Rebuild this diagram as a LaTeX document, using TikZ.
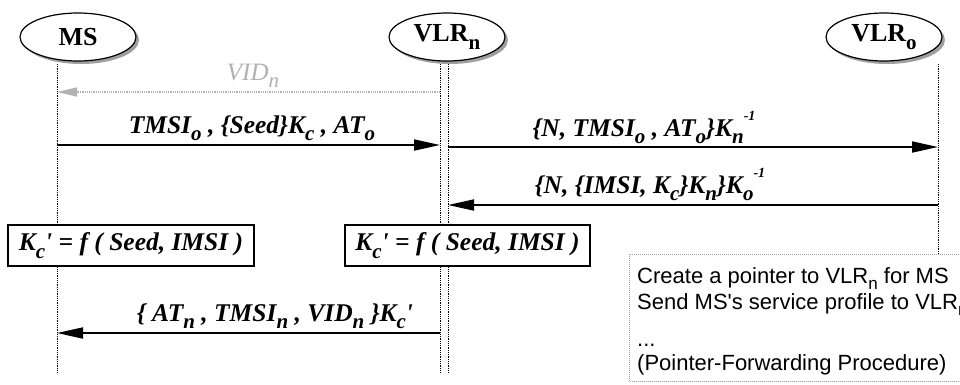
\documentclass[tikz,border=0pt]{standalone}
\usepackage{fontspec}
\setmainfont{Liberation Serif}
\newfontfamily\sansf{Liberation Sans}
\usetikzlibrary{arrows.meta,shapes.geometric,shadows}
\newcommand{\sbi}[1]{\raisebox{-0.3em}{\fontsize{21}{21}\selectfont #1}}
\newcommand{\spi}[1]{\raisebox{0.6em}{\fontsize{14}{14}\selectfont #1}}
\newcommand{\sbs}[1]{\raisebox{-0.3em}{\fontsize{17}{17}\selectfont #1}}
\begin{document}
\begin{tikzpicture}[x=1pt,y=-1pt,
  actor/.style={ellipse, draw, line width=1.2pt, fill=white, minimum width=116pt, minimum height=48pt,
    inner sep=0pt, font=\fontsize{26}{30}\selectfont\bfseries,
    drop shadow={shadow xshift=3pt, shadow yshift=-3pt, fill=gray!75, opacity=1}},
  life/.style={densely dotted, line width=0.8pt},
  msg/.style={line width=1.8pt, -{Triangle[length=26pt,width=11pt]}},
  lbl/.style={font=\fontsize{25.5}{29}\selectfont\bfseries\itshape, inner sep=0pt, anchor=base},
  eqbox/.style={draw, line width=1.2pt, fill=white, minimum height=41pt, inner sep=0pt,
    font=\fontsize{25.5}{29}\selectfont\bfseries\itshape},
  note/.style={font=\sansf\fontsize{22}{24}\selectfont, inner sep=0pt, anchor=base west}]
\useasboundingbox (0,0) rectangle (960,384);
% lifelines
\coordinate (msT) at (57,64);   \coordinate (msB) at (57,372);
\coordinate (vnaT) at (440,64); \coordinate (vnaB) at (440,372);
\coordinate (vnbT) at (448,64); \coordinate (vnbB) at (448,372);
\coordinate (voT) at (938,64);  \coordinate (voB) at (938,254);
\draw[life] (msT) -- (msB);
\draw[life] (vnaT) -- (vnaB);
\draw[life] (vnbT) -- (vnbB);
\draw[life] (voT) -- (voB);
% actors
\node[actor] (ms) at (78,37) {MS};
\node[actor] (vn) at (447,37) {VLR\raisebox{-0.3em}{\fontsize{21}{21}\selectfont n}};
\node[actor] (vo) at (884,37) {VLR\raisebox{-0.3em}{\fontsize{21}{21}\selectfont o}};
% message end points
\coordinate (m0s) at (440,92);  \coordinate (m0e) at (57,92);
\coordinate (m1s) at (57,145);  \coordinate (m1e) at (440,145);
\coordinate (m2s) at (448,147); \coordinate (m2e) at (938,147);
\coordinate (m3s) at (938,205); \coordinate (m3e) at (448,205);
\coordinate (m4s) at (440,333); \coordinate (m4e) at (57,333);
% messages
\draw[gray!60, densely dotted, line width=1.2pt, -{Triangle[length=20pt,width=9pt,fill=gray!60]}] (m0s) -- (m0e);
\node[font=\fontsize{25}{28}\selectfont\itshape, text=gray!60, inner sep=0pt, anchor=base] (l0) at (253,80) {VID\raisebox{-0.3em}{\fontsize{21}{21}\selectfont n}};
\draw[msg] (m1s) -- (m1e);
\node[lbl] (l1) at (252,133) {TMSI\sbi{o} , \{Seed\}K\sbi{c} , AT\sbi{o}};
\draw[msg] (m2s) -- (m2e);
\node[lbl] (l2) at (644,136) {\{N, TMSI\sbi{o} , AT\sbi{o}\}K\sbi{n}\spi{-1}};
\draw[msg] (m3s) -- (m3e);
\node[lbl] (l3) at (650,193) {\{N, \{IMSI, K\sbi{c}\}K\sbi{n}\}K\sbi{o}\spi{-1}};
\draw[msg] (m4s) -- (m4e);
\node[lbl] (l4) at (275,321) {\{ AT\sbi{n} , TMSI\sbi{n} , VID\sbi{n} \}K\sbi{c}\textquotesingle};
% computation boxes
\node[eqbox, minimum width=246pt] (b1) at (131,245.5) {K\sbi{c}\textquotesingle{} = f ( Seed, IMSI )};
\node[eqbox, minimum width=245pt] (b2) at (467.5,245.5) {K\sbi{c}\textquotesingle{} = f ( Seed, IMSI )};
% note box
\node[draw=gray!70, densely dotted, line width=1pt, fill=white, minimum width=350pt, minimum height=127pt,
  anchor=north west, inner sep=0pt] (nb) at (629,254) {};
\node[note] (n1) at (637,283) {Create a pointer to VLR\sbs{n} for MS};
\node[note] (n2) at (637,309) {Send MS\textquotesingle s service profile to VLR\sbs{n}};
\node[note] (n3) at (637,346) {...};
\node[note] (n4) at (637,370) {(Pointer-Forwarding Procedure)};
\end{tikzpicture}
\end{document}
